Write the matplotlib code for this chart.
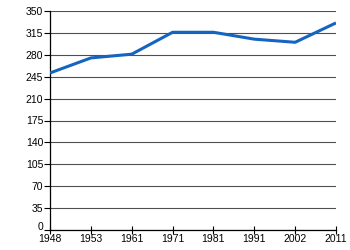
import matplotlib
matplotlib.use("Agg")
import matplotlib.pyplot as plt
from matplotlib.transforms import ScaledTranslation

years = ["1948", "1953", "1961", "1971", "1981", "1991", "2002", "2011"]
values = [251, 275, 281, 316, 316, 305, 300, 331]
yticks = [0, 35, 70, 105, 140, 175, 210, 245, 280, 315, 350]

plt.rcParams['font.family'] = ['Liberation Sans', 'DejaVu Sans']

fig = plt.figure(figsize=(3.5, 2.5), dpi=100)
ax = fig.add_axes([0.143, 0.08, 0.817, 0.876])

x = list(range(len(years)))
ax.plot(x, values, color="#1565c0", linewidth=2.2, solid_capstyle="butt", zorder=3)

ax.set_xlim(0, len(years) - 1)
ax.set_ylim(0, 350)
ax.set_yticks(yticks)
ax.set_xticks(x)
ax.set_xticklabels(years)
ax.yaxis.grid(True, color="#505050", linewidth=0.8)
ax.set_axisbelow(True)

for s in ["top", "right"]:
    ax.spines[s].set_visible(False)
ax.spines["left"].set_linewidth(0.9)
ax.spines["bottom"].set_linewidth(0.9)
ax.tick_params(axis="y", direction="out", length=4, width=0.8, labelsize=7.5, pad=1)
ax.tick_params(axis="x", direction="inout", length=6, width=0.8, labelsize=7.5, pad=0)

# zero label sits a little higher, like the original
fig.canvas.draw()
zero = ax.get_yticklabels()[0]
zero.set_transform(zero.get_transform() + ScaledTranslation(0, 3 / 72, fig.dpi_scale_trans))

fig.savefig("out.png", dpi=100)
